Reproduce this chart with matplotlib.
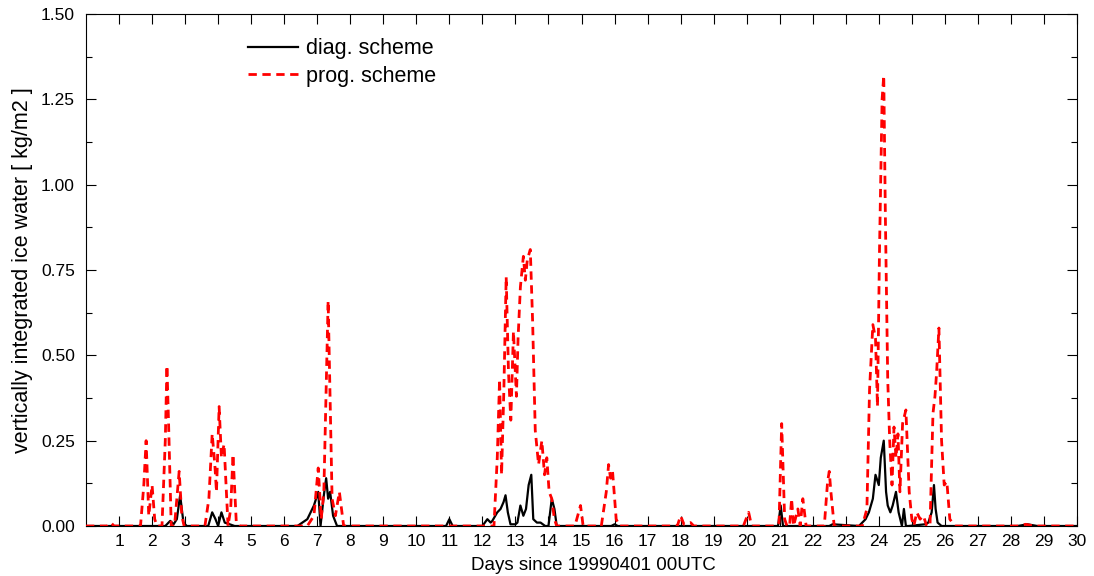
import matplotlib
matplotlib.use("Agg")
import matplotlib.pyplot as plt
from matplotlib.ticker import MultipleLocator, FixedLocator

plt.rcParams['font.family'] = ['Liberation Sans', 'DejaVu Sans']

# diag. scheme (black, solid): days, values [kg/m2]
diag_days = [0.0, 2.4, 2.55, 2.65, 2.75, 2.85, 2.95, 3.05, 3.7, 3.82, 3.92, 4.0, 4.1, 4.2, 4.35, 4.5,
             6.4, 6.7, 6.9, 7.03, 7.1, 7.2, 7.27, 7.33, 7.39, 7.48, 7.6, 10.9, 11.0, 11.1,
             12.0, 12.15, 12.25, 12.3, 12.45, 12.55, 12.64, 12.7, 12.77, 12.85, 13.0, 13.06, 13.15, 13.24,
             13.32, 13.4, 13.48, 13.54, 13.65, 13.76, 13.9, 14.0, 14.1, 14.18, 14.25, 14.4,
             15.9, 16.0, 16.1, 20.95, 21.03, 21.1, 22.5, 22.6, 23.4, 23.6, 23.7, 23.82, 23.9, 24.0, 24.06, 24.15,
             24.22, 24.27, 24.35, 24.42, 24.52, 24.6, 24.7, 24.76, 24.82, 24.9, 25.4, 25.5, 25.6, 25.67,
             25.72, 25.78, 25.9, 28.2, 28.5, 28.8, 30.0]
diag_vals = [0.0, 0.0, 0.015, 0.005, 0.02, 0.09, 0.01, 0.0, 0.0, 0.04, 0.02, 0.0, 0.04, 0.01, 0.005, 0.0,
             0.0, 0.02, 0.06, 0.10, 0.0, 0.09, 0.14, 0.08, 0.10, 0.03, 0.0, 0.0, 0.02, 0.0,
             0.0, 0.02, 0.01, 0.015, 0.04, 0.05, 0.07, 0.09, 0.04, 0.005, 0.005, 0.01, 0.06, 0.03,
             0.05, 0.12, 0.15, 0.02, 0.01, 0.01, 0.0, 0.0, 0.08, 0.05, 0.0, 0.0,
             0.0, 0.005, 0.0, 0.0, 0.06, 0.0, 0.0, 0.005, 0.0, 0.02, 0.04, 0.08, 0.15, 0.12, 0.20, 0.25,
             0.10, 0.06, 0.04, 0.06, 0.10, 0.04, 0.0, 0.05, 0.0, 0.0, 0.005, 0.01, 0.04, 0.12,
             0.05, 0.01, 0.0, 0.0, 0.005, 0.0, 0.0]

# prog. scheme (red, dashed): days, values [kg/m2]
prog_days = [0.0, 0.65, 0.75, 0.85, 1.65, 1.75, 1.82, 1.9, 2.0, 2.08, 2.15, 2.3, 2.4, 2.45, 2.5, 2.58,
             2.68, 2.82, 2.9, 2.97, 3.6, 3.72, 3.82, 3.9, 3.95, 4.03, 4.1, 4.18, 4.3, 4.38, 4.45, 4.55, 4.65,
             6.7, 6.9, 7.03, 7.12, 7.2, 7.33, 7.45, 7.55, 7.67, 7.8,
             12.35, 12.45, 12.52, 12.58, 12.65, 12.72, 12.79, 12.86, 12.94, 13.03, 13.08, 13.15, 13.24,
             13.30, 13.36, 13.45, 13.52, 13.6, 13.7, 13.8, 13.88, 13.95, 14.02, 14.1, 14.18, 14.25,
             14.8, 14.97, 15.05, 15.6, 15.75, 15.82, 15.88, 15.94, 16.05, 16.15,
             17.9, 18.0, 18.1, 18.3, 18.4, 19.9, 20.06, 20.15, 20.9, 20.98, 21.06, 21.15, 21.22,
             21.3, 21.36, 21.42, 21.55, 21.62, 21.7, 21.8, 21.88, 22.35, 22.45, 22.5, 22.55, 22.65,
             23.5, 23.64, 23.72, 23.82, 23.9, 23.96, 24.02, 24.1, 24.15, 24.2, 24.27, 24.33, 24.4,
             24.46, 24.52, 24.58, 24.64, 24.72, 24.82, 24.92, 25.0, 25.06, 25.15, 25.25, 25.35, 25.45,
             25.55, 25.64, 25.7, 25.75, 25.82, 25.9, 25.98, 26.06, 26.15, 26.3,
             28.2, 28.45, 28.7, 30.0]
prog_vals = [0.0, 0.0, 0.01, 0.0, 0.0, 0.12, 0.25, 0.03, 0.12, 0.02, 0.0, 0.0, 0.25, 0.47, 0.30, 0.0,
             0.0, 0.16, 0.03, 0.0, 0.0, 0.08, 0.27, 0.18, 0.10, 0.35, 0.20, 0.24, 0.0, 0.05, 0.21, 0.01, 0.0,
             0.0, 0.03, 0.17, 0.02, 0.10, 0.66, 0.08, 0.03, 0.10, 0.0,
             0.0, 0.20, 0.43, 0.15, 0.40, 0.73, 0.45, 0.31, 0.57, 0.38, 0.55, 0.70, 0.79,
             0.72, 0.78, 0.81, 0.60, 0.28, 0.18, 0.25, 0.15, 0.20, 0.10, 0.08, 0.02, 0.0,
             0.0, 0.06, 0.0, 0.0, 0.10, 0.18, 0.14, 0.16, 0.02, 0.0,
             0.0, 0.03, 0.005, 0.01, 0.0, 0.0, 0.04, 0.0, 0.0, 0.01, 0.30, 0.02, 0.0,
             0.0, 0.08, 0.0, 0.05, 0.0, 0.08, 0.0, 0.0, 0.0, 0.13, 0.16, 0.10, 0.0,
             0.0, 0.05, 0.40, 0.59, 0.55, 0.35, 0.80, 1.25, 1.32, 0.90, 0.43, 0.25, 0.12,
             0.29, 0.20, 0.27, 0.10, 0.30, 0.34, 0.10, 0.02, 0.0, 0.04, 0.02, 0.03, 0.0,
             0.0, 0.33, 0.38, 0.45, 0.58, 0.25, 0.12, 0.13, 0.02, 0.0,
             0.0, 0.005, 0.0, 0.0]

x_ticks = list(range(1, 31))
y_major = [0.0, 0.25, 0.5, 0.75, 1.0, 1.25, 1.5]

fig = plt.figure(figsize=(10.94, 5.76), dpi=100)
ax = fig.add_axes([86/1094, 1-526/576, (1077-86)/1094, (526-14)/576])

ax.plot(diag_days, diag_vals, color='black', lw=1.6, label='diag. scheme', zorder=3)
ax.plot(prog_days, prog_vals, color='red', lw=2.0, ls=(0, (3, 2)), label='prog. scheme', zorder=4)

ax.set_xlim(0, 30)
ax.set_ylim(0, 1.5)
ax.xaxis.set_major_locator(FixedLocator(x_ticks))
ax.set_xticklabels([str(t) for t in x_ticks])
ax.yaxis.set_major_locator(FixedLocator(y_major))
ax.yaxis.set_minor_locator(MultipleLocator(0.125))
ax.set_yticklabels([f"{v:.2f}" for v in y_major])

ax.tick_params(which='both', direction='in', top=True, right=True, labelsize=12.5, width=0.8)
ax.tick_params(which='major', length=7)
ax.tick_params(axis='x', which='major', pad=6)
ax.tick_params(axis='y', which='major', pad=8)
ax.tick_params(which='minor', length=4)
ax.tick_params(axis='x', which='minor', length=0)
for s in ax.spines.values():
    s.set_linewidth(0.8)

ax.set_xlabel('Days since 19990401 00UTC', fontsize=13.5)
ax.xaxis.set_label_coords(0.512, -0.061)
ax.set_ylabel('vertically integrated ice water [ kg/m2 ]', fontsize=15.5, labelpad=6)

leg = ax.legend(loc='upper left', bbox_to_anchor=(0.144, 0.99), frameon=False, fontsize=15.5,
                handlelength=2.3, handletextpad=0.4, labelspacing=0.3)

fig.savefig('out.png', dpi=100)
